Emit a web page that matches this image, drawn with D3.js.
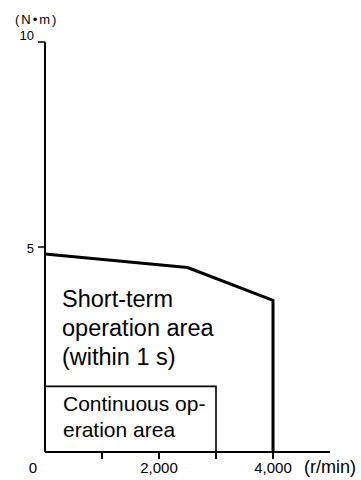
<!DOCTYPE html>
<html><head><meta charset="utf-8">
<script src="https://cdn.jsdelivr.net/npm/d3@7"></script>
<style>body{margin:0;background:#fff}svg{display:block}text{font-family:"Liberation Sans",Arial,sans-serif;fill:#000}</style>
</head><body>
<svg id="c" width="361" height="480"></svg>
<script>
// Data
const shortTermSpeed = [0, 2500, 4000, 4000];
const shortTermTorque = [4.83, 4.5, 3.7, 0];
const contSpeed = [0, 3000, 3000];
const contTorque = [1.6, 1.6, 0];
const xTicks = [1000, 2000, 3000, 4000];
const xTickLabels = {0: "0", 2000: "2,000", 4000: "4,000"};
const yTicks = [5, 10];
const xUnit = "(r/min)";
const yUnit = "(N\u2022m)";
const areaLabels = [["Short-term", "operation area", "(within 1 s)"], ["Continuous op-", "eration area"]];

const svg = d3.select("#c");
const x = d3.scaleLinear().domain([0, 5000]).range([45, 330]);
const y = d3.scaleLinear().domain([0, 10]).range([452, 42]);

// Y axis
svg.append("line").attr("x1", x(0)).attr("x2", x(0)).attr("y1", y(10)).attr("y2", y(0))
  .attr("stroke", "#000").attr("stroke-width", 2);
yTicks.forEach(t => {
  svg.append("line").attr("x1", x(0) - 7).attr("x2", x(0)).attr("y1", y(t)).attr("y2", y(t))
    .attr("stroke", "#000").attr("stroke-width", 1.5);
  svg.append("text").attr("x", x(0) - 11).attr("y", y(t) + (t === 10 ? -2 : 6))
    .attr("text-anchor", "end").attr("font-size", 13).text(t);
});
svg.append("text").attr("x", 15).attr("y", 24).attr("font-size", 13)
  .attr("letter-spacing", 2).text(yUnit);

// X axis
svg.append("line").attr("x1", x(0)).attr("x2", x(5000)).attr("y1", y(0)).attr("y2", y(0))
  .attr("stroke", "#000").attr("stroke-width", 2);
xTicks.forEach(t => {
  svg.append("line").attr("x1", x(t)).attr("x2", x(t)).attr("y1", y(0)).attr("y2", y(0) + 7)
    .attr("stroke", "#000").attr("stroke-width", 2);
});
Object.keys(xTickLabels).forEach(k => {
  const v = +k;
  svg.append("text").attr("x", v === 0 ? x(0) - 12 : x(v)).attr("y", 473)
    .attr("text-anchor", "middle").attr("font-size", 15).text(xTickLabels[k]);
});
svg.append("text").attr("x", 304).attr("y", 473).attr("font-size", 18).text(xUnit);

// Continuous box
const line = d3.line().x(d => x(d[0])).y(d => y(d[1]));
svg.append("path").datum(contSpeed.map((s, i) => [s, contTorque[i]]))
  .attr("d", line).attr("fill", "none").attr("stroke", "#000").attr("stroke-width", 1.6);

// Short-term curve
svg.append("path").datum(shortTermSpeed.map((s, i) => [s, shortTermTorque[i]]))
  .attr("d", line).attr("fill", "none").attr("stroke", "#000").attr("stroke-width", 3)
  .attr("stroke-linejoin", "round");

// Labels
areaLabels[0].forEach((t, i) => {
  svg.append("text").attr("x", 62).attr("y", 307 + i * 29).attr("font-size", 23.5).text(t);
});
areaLabels[1].forEach((t, i) => {
  svg.append("text").attr("x", 63).attr("y", 411 + i * 26).attr("font-size", 21).text(t);
});
</script>
</body></html>
